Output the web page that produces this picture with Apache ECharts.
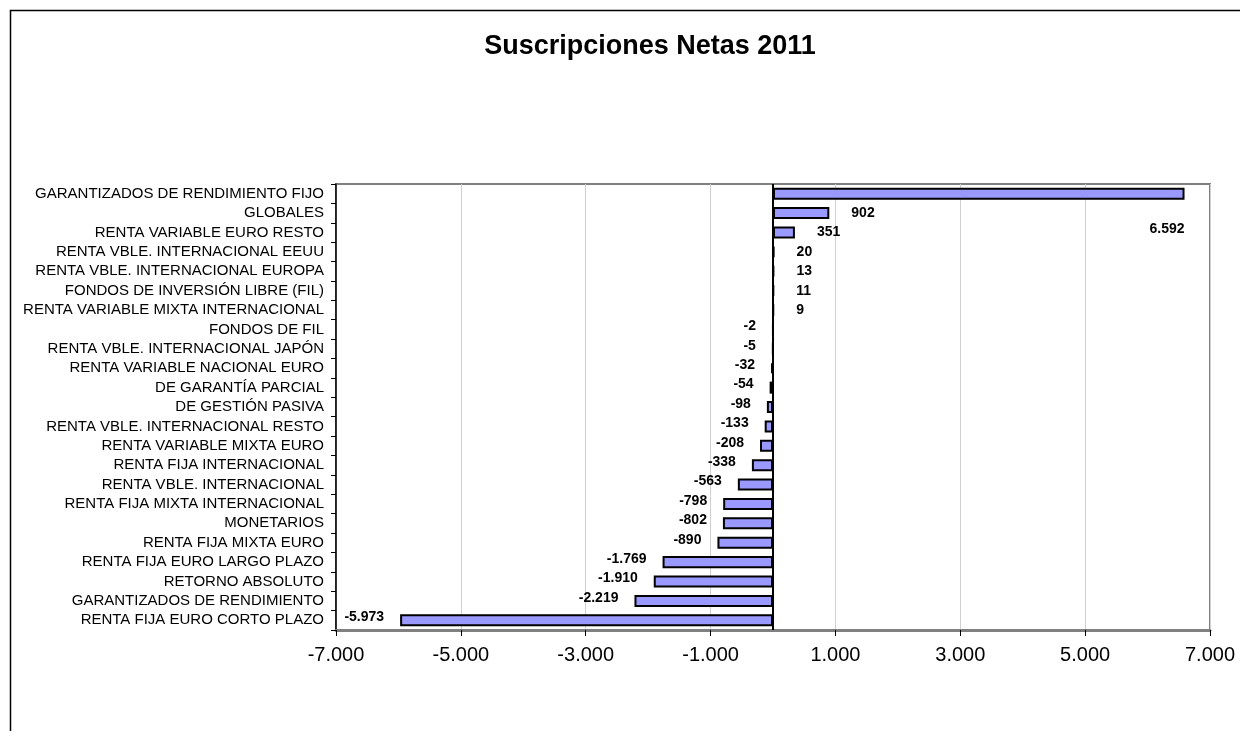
<!DOCTYPE html>
<html><head><meta charset="utf-8">
<script src="https://cdn.jsdelivr.net/npm/echarts@6/dist/echarts.min.js"></script>
<style>html,body{margin:0;padding:0;background:#fff}#c{width:1240px;height:731px}</style>
</head><body><div id="c"></div>
<script>
const categories = [
 "GARANTIZADOS DE RENDIMIENTO FIJO","GLOBALES","RENTA VARIABLE EURO RESTO",
 "RENTA VBLE. INTERNACIONAL EEUU","RENTA VBLE. INTERNACIONAL EUROPA",
 "FONDOS DE INVERSIÓN LIBRE (FIL)","RENTA VARIABLE MIXTA INTERNACIONAL","FONDOS DE FIL",
 "RENTA VBLE. INTERNACIONAL JAPÓN","RENTA VARIABLE NACIONAL EURO","DE GARANTÍA PARCIAL",
 "DE GESTIÓN PASIVA","RENTA VBLE. INTERNACIONAL RESTO","RENTA VARIABLE MIXTA EURO",
 "RENTA FIJA INTERNACIONAL","RENTA VBLE. INTERNACIONAL","RENTA FIJA MIXTA INTERNACIONAL",
 "MONETARIOS","RENTA FIJA MIXTA EURO","RENTA FIJA EURO LARGO PLAZO","RETORNO ABSOLUTO",
 "GARANTIZADOS DE RENDIMIENTO","RENTA FIJA EURO CORTO PLAZO"];
const values = [6592,902,351,20,13,11,9,-2,-5,-32,-54,-98,-133,-208,-338,-563,-798,-802,-890,-1769,-1910,-2219,-5973];
const xTicks = {min:-7000, max:7000, interval:2000};

function fmt(v){
  const s = Math.abs(Math.round(v)).toString().replace(/\B(?=(\d{3})+(?!\d))/g,'.');
  return (v<0?'-':'')+s;
}
function labelFor(v){
  if (v > xTicks.max*0.7) return {position:'insideRight',distance:0,offset:[0,35]};
  if (v >= 0) return {position:'right',distance:22};
  return {position:'left',distance:16,offset:[0,-3]};
}
const chart = echarts.init(document.getElementById('c'));
chart.setOption({
  animation:false,
  backgroundColor:'#fff',
  title:{text:'Suscripciones Netas 2011',left:645,textAlign:'center',top:28,
    textStyle:{fontFamily:'Liberation Sans, Arial',fontWeight:'bold',fontSize:27,color:'#000'}},
  graphic:[{type:'rect',shape:{x:10.5,y:10.5,width:1240,height:730},
    style:{fill:'none',stroke:'#000',lineWidth:1.5},silent:true}],
  grid:{left:336,right:30,top:184,bottom:101,show:true,borderColor:'#808080',borderWidth:2},
  xAxis:{type:'value',min:xTicks.min,max:xTicks.max,interval:xTicks.interval,
    axisLine:{show:true,lineStyle:{color:'#808080',width:3}},
    axisTick:{show:true,length:6,lineStyle:{color:'#000'}},
    splitLine:{show:true,lineStyle:{color:'#d0d0d0',width:1}},
    axisLabel:{formatter:fmt,color:'#000',fontFamily:'Liberation Sans, Arial',fontSize:20,margin:15}},
  yAxis:{type:'category',data:categories,inverse:true,
    axisLine:{onZero:false,show:true,lineStyle:{color:'#000',width:1.5}},
    axisTick:{show:true,length:5,interval:0,lineStyle:{color:'#000'}},
    axisLabel:{interval:0,color:'#000',fontFamily:'Liberation Sans, Arial',fontSize:15,margin:12},
    splitLine:{show:false}},
  series:[{type:'bar',barCategoryGap:'38%',
    data:values.map(v=>({value:v,label:labelFor(v)})),
    itemStyle:{color:'#9999ff',borderColor:'#000',borderWidth:2},
    label:{show:true,formatter:p=>fmt(p.value),color:'#000',fontWeight:'bold',
      fontFamily:'Liberation Sans, Arial',fontSize:14},
    markLine:{silent:true,symbol:'none',label:{show:false},
      lineStyle:{color:'#000',width:2,type:'solid'},data:[{xAxis:0}]}
  }]
});
</script></body></html>
